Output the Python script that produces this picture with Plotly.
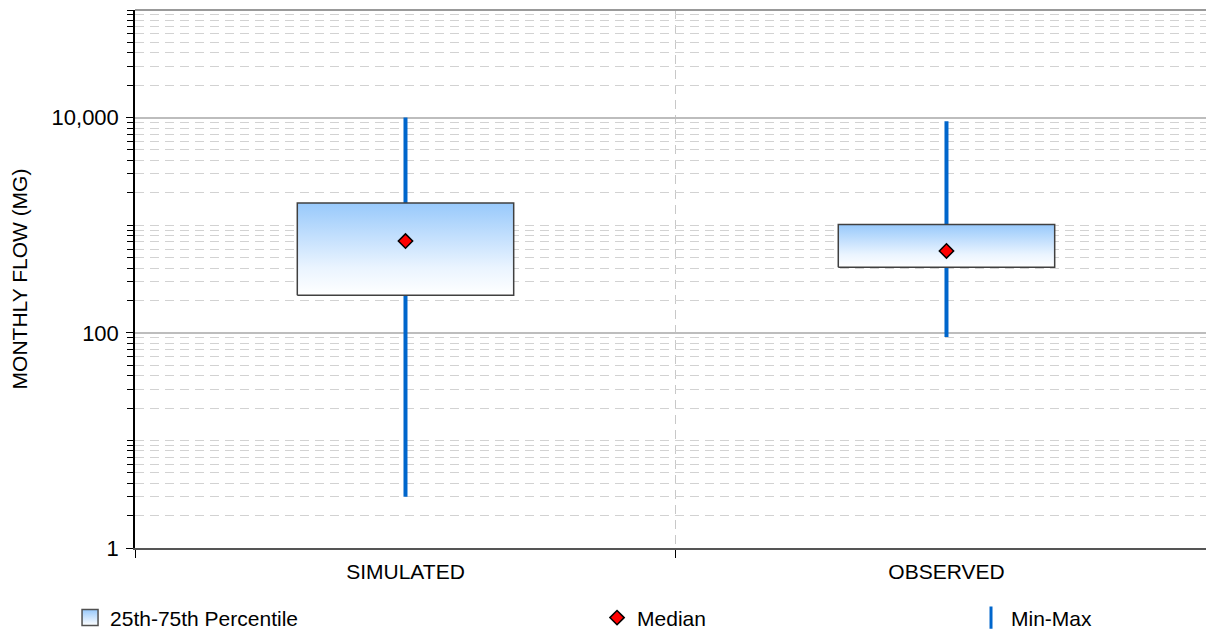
import plotly.graph_objects as go

# ---- data ----
categories = ["SIMULATED", "OBSERVED"]
mins = [3.0, 91.6]
q1s = [223.5, 406.0]
medians = [713.0, 576.0]
q3s = [1607.0, 1013.0]
maxs = [10000.0, 9270.0]

ytick_vals = [1, 100, 10000]
ytick_text = ["1", "100", "10,000"]

legend_names = ["25th-75th Percentile", "Median", "Min-Max"]

# ---- styles ----
FONT = "Liberation Sans, Arial, sans-serif"
BLUE = "#0066cc"
BOX_HALF = 0.2

positions = list(range(len(categories)))

fig = go.Figure()

# whiskers (min-max)
wx, wy = [], []
for p, lo, hi in zip(positions, mins, maxs):
    wx += [p, p, None]
    wy += [lo, hi, None]
fig.add_trace(go.Scatter(x=wx, y=wy, mode="lines",
                         line=dict(color=BLUE, width=4),
                         showlegend=False, hoverinfo="skip"))

# boxes (25th-75th)
for i, (p, a, b) in enumerate(zip(positions, q1s, q3s)):
    fig.add_trace(go.Scatter(
        x=[p - BOX_HALF, p + BOX_HALF, p + BOX_HALF, p - BOX_HALF, p - BOX_HALF],
        y=[a, a, b, b, a],
        mode="lines", fill="toself",
        fillgradient=dict(type="vertical",
                          colorscale=[[0, "#ffffff"], [0.3, "#eaf4ff"], [1, "#98c9fb"]]),
        line=dict(color="#404040", width=1.5),
        showlegend=False, hoverinfo="skip"))

# legend entry for the boxes
fig.add_trace(go.Scatter(x=[None], y=[None], mode="markers",
                         marker=dict(symbol="square", size=16, color="#98c9fb",
                                     gradient=dict(type="vertical", color="#ffffff"),
                                     line=dict(color="#505050", width=1.5)),
                         name=legend_names[0], legend="legend"))

# medians
fig.add_trace(go.Scatter(x=positions, y=medians, mode="markers",
                         marker=dict(symbol="diamond", size=11, color="#ff0000",
                                     line=dict(color="#000000", width=1.5)),
                         name=legend_names[1], legend="legend2"))

# legend entry for min-max
fig.add_trace(go.Scatter(x=[None], y=[None], mode="markers",
                         marker=dict(symbol="line-ns-open", size=30, color=BLUE,
                                     line=dict(color=BLUE, width=3)),
                         name=legend_names[2], legend="legend3"))

leg_common = dict(orientation="h", yref="container", yanchor="middle", y=0.0256,
                  xanchor="left",
                  bgcolor="rgba(0,0,0,0)", font=dict(family=FONT, size=21, color="#000"))

fig.update_layout(
    width=1206, height=626,
    margin=dict(l=127, r=0, t=2, b=86, autoexpand=False),
    paper_bgcolor="white", plot_bgcolor="white",
    font=dict(family=FONT, size=21, color="#000"),
    legend=dict(x=-0.0602, **leg_common),
    legend2=dict(x=0.4282, **leg_common),
    legend3=dict(x=0.7748, **leg_common),
    xaxis=dict(
        range=[-0.5, 1.4945],
        tickmode="array", tickvals=positions, ticktext=categories,
        ticks="", showgrid=False, zeroline=False,
        showline=True, linecolor="#555555", linewidth=2,
        tickfont=dict(family=FONT, size=21, color="#000"),
        ticklabelstandoff=4,
        minor=dict(tickvals=[p - 0.5 for p in positions] + [positions[-1] + 0.5],
                   ticks="outside", ticklen=8, tickcolor="#000", tickwidth=1,
                   showgrid=True, gridcolor="#c8c8c8", griddash="9px,6px", gridwidth=1),
    ),
    yaxis=dict(
        type="log", range=[0, 5],
        tickmode="array", tickvals=ytick_vals, ticktext=ytick_text,
        ticks="outside", ticklen=7, tickcolor="#000", tickwidth=1,
        showgrid=True, gridcolor="#bdbdbd", gridwidth=1.5,
        zeroline=False,
        showline=True, linecolor="#000", linewidth=1.5,
        tickfont=dict(family=FONT, size=22, color="#000"),
        ticklabelstandoff=3,
        title=dict(text="MONTHLY FLOW (MG)", font=dict(family=FONT, size=21, color="#000"),
                   standoff=22),
        minor=dict(dtick="D1", ticks="outside", ticklen=6, tickcolor="#000", tickwidth=1,
                   showgrid=True, gridcolor="#d2d2d2", griddash="9px,6px", gridwidth=1),
    ),
    shapes=[dict(type="line", xref="paper", yref="paper", x0=0, x1=1, y0=1, y1=1,
                 line=dict(color="#999999", width=2), layer="above")],
)

fig.write_html("out.html")
